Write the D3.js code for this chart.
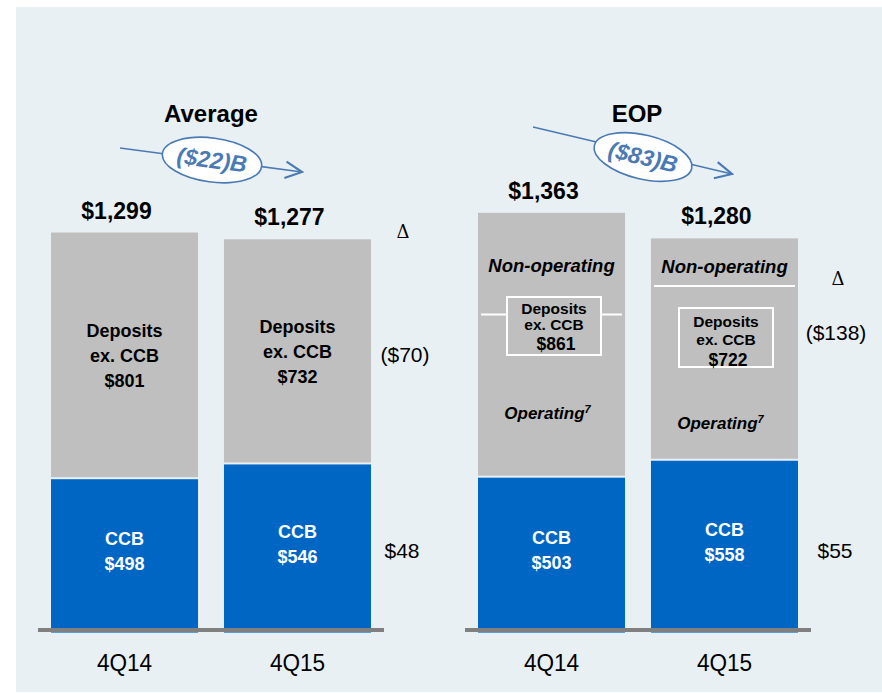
<!DOCTYPE html>
<html>
<head>
<meta charset="utf-8">
<script src="https://cdn.jsdelivr.net/npm/d3@7"></script>
<style>
  body { margin: 0; background: #fff; }
  svg { display: block; font-family: "Liberation Sans", Arial, sans-serif; }
</style>
</head>
<body>
<div id="chart"></div>
<script>
// Deposits ($B)
const categories = ["4Q14", "4Q15"];
const avgTotal = [1299, 1277];
const avgCCB = [498, 546];
const avgDeposits = [801, 732];
const eopTotal = [1363, 1280];
const eopCCB = [503, 558];
const eopDeposits = [861, 722];
const eopNonOperating = [330, 155];
const avgDelta = ["($70)", "$48"];
const eopDelta = ["($138)", "$55"];
const changeLabels = ["($22)B", "($83)B"];
const panelTitles = ["Average", "EOP"];

const width = 882, height = 693;
const gray = "#bfbfbf", blue = "#0066c4", steel = "#4a7ab4";

const svg = d3.select("#chart").append("svg")
    .attr("width", width)
    .attr("height", height);

// panel background
svg.append("rect")
    .attr("x", 16).attr("y", 7)
    .attr("width", width - 16).attr("height", 685)
    .attr("fill", "#e9f0f4");

svg.append("defs").append("marker")
    .attr("id", "arrow")
    .attr("viewBox", "0 0 12 12")
    .attr("refX", 11).attr("refY", 6)
    .attr("markerWidth", 20).attr("markerHeight", 20)
    .attr("markerUnits", "userSpaceOnUse")
    .attr("orient", "auto")
    .append("path")
    .attr("d", "M1,1 L11,6 L1,11")
    .attr("fill", "none")
    .attr("stroke", steel)
    .attr("stroke-width", 1.3);

const y = d3.scaleLinear().domain([0, 1363]).range([632.6, 212.8]);

const xAvg = d3.scaleBand().domain(categories).range([51, 371]).paddingInner(0.15);
const xEop = d3.scaleBand().domain(categories).range([478, 798]).paddingInner(0.15);

function barText(g, x, lines, yStart, lh, size, style) {
    const t = g.append("text")
        .attr("text-anchor", "middle")
        .style("font-size", size + "px")
        .style("font-weight", "bold")
        .style("font-style", style || "normal");
    lines.forEach((l, i) => {
        t.append("tspan").attr("x", x).attr("y", yStart + i * lh).text(l);
    });
    return t;
}

function drawBase(x) {
    const r = x.range();
    svg.append("line")
        .attr("x1", r[0] - 13).attr("x2", r[1] + 13)
        .attr("y1", 630).attr("y2", 630)
        .attr("stroke", "#808080").attr("stroke-width", 4);
    categories.forEach(c => {
        const cx = x(c) + x.bandwidth() / 2;
        svg.append("text")
            .attr("x", cx).attr("y", 671)
            .attr("text-anchor", "middle")
            .style("font-size", "24px")
            .attr("transform", `translate(${cx * 0.06},0) scale(0.94,1)`)
            .text(c);
    });
}

function drawChange(title, tx, label, x1, y1, x2, y2, cx, cy) {
    svg.append("text")
        .attr("x", tx).attr("y", 122)
        .attr("text-anchor", "middle")
        .style("font-size", "24px").style("font-weight", "bold")
        .text(title);
    svg.append("line")
        .attr("x1", x1).attr("y1", y1).attr("x2", x2).attr("y2", y2)
        .attr("stroke", steel).attr("stroke-width", 1.6)
        .attr("marker-end", "url(#arrow)");
    const ang = Math.atan2(y2 - y1, x2 - x1) * 180 / Math.PI;
    const g = svg.append("g").attr("transform", `translate(${cx},${cy}) rotate(${ang})`);
    g.append("ellipse")
        .attr("rx", 50).attr("ry", 22)
        .attr("fill", "#fff")
        .attr("stroke", steel).attr("stroke-width", 1.6);
    g.append("text")
        .attr("y", 8)
        .attr("text-anchor", "middle")
        .attr("fill", steel)
        .style("font-size", "23px").style("font-weight", "bold").style("font-style", "italic")
        .text(label);
}

function totalLabel(cx, v) {
    svg.append("text")
        .attr("x", cx - 8).attr("y", y(v) - 14)
        .attr("text-anchor", "middle")
        .style("font-size", "23px").style("font-weight", "bold")
        .text("$" + d3.format(",")(v));
}

function deltaLabels(x, ys, labels) {
    svg.append("text").attr("x", x[0]).attr("y", ys[0]).attr("text-anchor", "middle")
        .style("font-size", "18px").style("font-family", "DejaVu Serif, serif").text("\u0394");
    svg.append("text").attr("x", x[1]).attr("y", ys[1]).attr("text-anchor", "middle")
        .style("font-size", "21px").text(labels[0]);
    svg.append("text").attr("x", x[2]).attr("y", ys[2]).attr("text-anchor", "middle")
        .style("font-size", "21px").text(labels[1]);
}

// ---- Average panel
drawChange(panelTitles[0], 211, changeLabels[0], 120, 148, 302, 172, 212, 160);
categories.forEach((c, i) => {
    const x0 = xAvg(c), w = xAvg.bandwidth(), cx = x0 + w / 2;
    svg.append("rect")
        .attr("x", x0).attr("y", y(avgTotal[i]))
        .attr("width", w).attr("height", y(avgCCB[i]) - y(avgTotal[i]) - 2)
        .attr("fill", gray);
    svg.append("rect")
        .attr("x", x0).attr("y", y(avgCCB[i]))
        .attr("width", w).attr("height", y(0) - y(avgCCB[i]))
        .attr("fill", blue);
    totalLabel(cx, avgTotal[i]);
    const mid = (y(avgTotal[i]) + y(avgCCB[i])) / 2;
    barText(svg, cx, ["Deposits", "ex. CCB", "$" + avgDeposits[i]], mid - 19, 25, 18);
    const cm = (y(avgCCB[i]) + y(0)) / 2;
    barText(svg, cx, ["CCB", "$" + avgCCB[i]], cm - 11, 25, 18).attr("fill", "#fff");
});
drawBase(xAvg);
deltaLabels([403, 405, 402], [238, 362, 558], avgDelta);

// ---- EOP panel
drawChange(panelTitles[1], 637, changeLabels[1], 533, 127, 732, 174, 643, 157);
const boxes = [[507, 297, 94, 58], [679, 308, 94, 59]];
const boxBase = [[314, 330, 350], [327, 345, 366]];
categories.forEach((c, i) => {
    const x0 = xEop(c), w = xEop.bandwidth(), cx = x0 + w / 2;
    svg.append("rect")
        .attr("x", x0).attr("y", y(eopTotal[i]))
        .attr("width", w).attr("height", y(eopCCB[i]) - y(eopTotal[i]) - 2)
        .attr("fill", gray);
    svg.append("rect")
        .attr("x", x0).attr("y", y(eopCCB[i]))
        .attr("width", w).attr("height", y(0) - y(eopCCB[i]))
        .attr("fill", blue);
    // split between operating and non-operating
    const ySplit = y(eopTotal[i] - eopNonOperating[i]);
    svg.append("line")
        .attr("x1", x0 + 3).attr("x2", x0 + w - 3)
        .attr("y1", ySplit).attr("y2", ySplit)
        .attr("stroke", "#fff").attr("stroke-width", 2);
    const b = boxes[i];
    svg.append("rect")
        .attr("x", b[0]).attr("y", b[1]).attr("width", b[2]).attr("height", b[3])
        .attr("fill", gray).attr("stroke", "#fff").attr("stroke-width", 2);
    const bx = b[0] + b[2] / 2;
    const bb = boxBase[i];
    barText(svg, bx, ["Deposits"], bb[0], 0, 15.5);
    barText(svg, bx, ["ex. CCB"], bb[1], 0, 15.5);
    barText(svg, bx + 2, ["$" + eopDeposits[i]], bb[2], 0, 17.5);

    totalLabel(cx, eopTotal[i]);
    barText(svg, cx, ["Non-operating"], [272, 273][i], 0, 18.5, "italic");
    const op = barText(svg, cx - 4, [""], [419, 429][i], 0, 17, "italic");
    op.select("tspan").text("Operating");
    op.append("tspan").attr("dy", -6).style("font-size", "11px").text("7");
    const cm = (y(eopCCB[i]) + y(0)) / 2;
    barText(svg, cx, ["CCB", "$" + eopCCB[i]], cm - 11, 25, 18).attr("fill", "#fff");
});
drawBase(xEop);
deltaLabels([838, 836, 835], [285, 340, 558], eopDelta);
</script>
</body>
</html>
